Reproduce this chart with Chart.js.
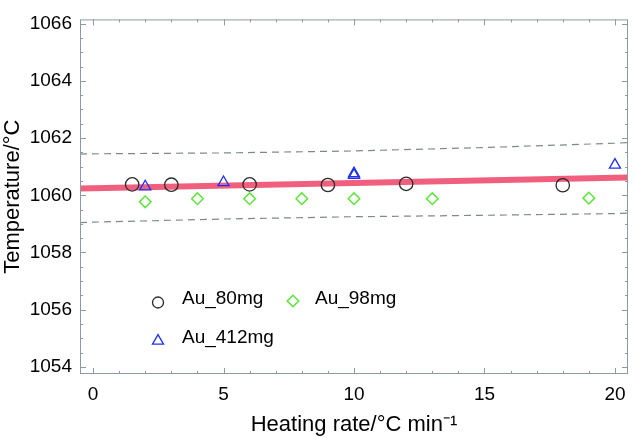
<!DOCTYPE html>
<html>
<head>
<meta charset="utf-8">
<script src="https://cdn.jsdelivr.net/npm/chart.js@4.4.1/dist/chart.umd.min.js"></script>
<style>
  html, body { margin: 0; padding: 0; background: #fff; }
</style>
</head>
<body>
<canvas id="chart" width="636" height="438"></canvas>
<script>
// values
const au80X = [1.5, 3, 6, 9, 12, 18];
const au80Y = [1060.38, 1060.37, 1060.38, 1060.36, 1060.40, 1060.35];
const au98X = [2, 4, 6, 8, 10, 13, 19];
const au98Y = [1059.77, 1059.88, 1059.88, 1059.88, 1059.88, 1059.88, 1059.90];
const au412X = [2, 5, 10, 10, 20];
const au412Y = [1060.30, 1060.45, 1060.70, 1060.76, 1061.06];
const fitX = [-0.5, 20.5];
const fitY = [1060.24, 1060.62];
const bandX = [-0.5, 0, 5, 10, 15, 20, 20.5];
const bandUpper = [1061.44, 1061.45, 1061.48, 1061.55, 1061.67, 1061.82, 1061.84];
const bandLower = [1059.04, 1059.06, 1059.17, 1059.25, 1059.30, 1059.36, 1059.38];
const xTicks = [0, 5, 10, 15, 20];
const yTicks = [1054, 1056, 1058, 1060, 1062, 1064, 1066];

const pts = (xs, ys) => xs.map((x, i) => ({ x, y: ys[i] }));

Chart.defaults.font.family = '"Liberation Sans", Arial, Helvetica, sans-serif';
Chart.defaults.color = '#000';

const axisColor = '#8c9c9c';

// frame plus inward tick marks on all four sides
const frameTicks = {
  id: 'frameTicks',
  afterDatasetsDraw(chart) {
    const { ctx, chartArea: a, scales: { x, y } } = chart;
    ctx.save();
    ctx.strokeStyle = axisColor;
    ctx.lineWidth = 1;
    ctx.strokeRect(a.left + 0.5, a.top + 0.5, a.right - a.left - 1, a.bottom - a.top - 1);
    ctx.beginPath();
    for (let v = Math.ceil(x.min); v <= x.max; v += 1) {
      const px = Math.round(x.getPixelForValue(v)) + 0.5;
      const len = v % 5 === 0 ? 6 : 3;
      ctx.moveTo(px, a.bottom); ctx.lineTo(px, a.bottom - len);
      ctx.moveTo(px, a.top); ctx.lineTo(px, a.top + len);
    }
    for (let v = Math.ceil(y.min * 2) / 2; v <= y.max; v += 0.5) {
      const py = Math.round(y.getPixelForValue(v)) + 0.5;
      const len = v % 2 === 0 ? 6 : 3;
      ctx.moveTo(a.left, py); ctx.lineTo(a.left + len, py);
      ctx.moveTo(a.right, py); ctx.lineTo(a.right - len, py);
    }
    ctx.stroke();
    ctx.restore();
  }
};

function marker(ctx, style, cx, cy, r) {
  ctx.beginPath();
  if (style === 'circle') {
    ctx.arc(cx, cy, r, 0, Math.PI * 2);
  } else if (style === 'rectRot') {
    ctx.moveTo(cx, cy - r); ctx.lineTo(cx + r, cy);
    ctx.lineTo(cx, cy + r); ctx.lineTo(cx - r, cy);
    ctx.closePath();
  } else {
    for (let k = 0; k < 3; k++) {
      const ang = -Math.PI / 2 + k * 2 * Math.PI / 3;
      const px = cx + Math.cos(ang) * r, py = cy + Math.sin(ang) * r;
      k ? ctx.lineTo(px, py) : ctx.moveTo(px, py);
    }
    ctx.closePath();
  }
  ctx.stroke();
}

// legend sitting inside the plot, lower left
const innerLegend = {
  id: 'innerLegend',
  afterDraw(chart) {
    const { ctx } = chart;
    const ds = chart.data.datasets;
    const items = [
      { d: ds[0], mx: 158, my: 302.5, tx: 182, ty: 304, r: 5.5 },
      { d: ds[1], mx: 293, my: 301, tx: 315, ty: 304, r: 5.8 },
      { d: ds[2], mx: 158, my: 341, tx: 182, ty: 343, r: 6.4 }
    ];
    ctx.save();
    items.forEach(it => {
      ctx.strokeStyle = it.d.borderColor;
      ctx.lineWidth = it.d.borderWidth;
      marker(ctx, it.d.pointStyle, it.mx, it.my, it.r);
      ctx.fillStyle = '#000';
      ctx.font = '19px "Liberation Sans", Arial, sans-serif';
      ctx.textBaseline = 'alphabetic';
      ctx.fillText(it.d.label, it.tx, it.ty);
    });
    ctx.restore();
  }
};

new Chart(document.getElementById('chart'), {
  type: 'scatter',
  data: {
    datasets: [
      { label: 'Au_80mg', data: pts(au80X, au80Y), pointStyle: 'circle', pointRadius: 6.7,
        borderColor: '#2a2a2a', backgroundColor: 'rgba(0,0,0,0)', borderWidth: 1.3, order: 1 },
      { label: 'Au_98mg', data: pts(au98X, au98Y), pointStyle: 'rectRot', pointRadius: 5.8,
        borderColor: '#5ee43c', backgroundColor: 'rgba(0,0,0,0)', borderWidth: 1.5, order: 2 },
      { label: 'Au_412mg', data: pts(au412X, au412Y), pointStyle: 'triangle', pointRadius: 6.4,
        borderColor: '#1f2ff0', backgroundColor: 'rgba(0,0,0,0)', borderWidth: 1.3, order: 0 },
      { label: 'fit', data: pts(fitX, fitY), showLine: true, pointRadius: 0,
        borderColor: '#f0607e', borderWidth: 6, order: 10 },
      { label: 'upper', data: pts(bandX, bandUpper), showLine: true, pointRadius: 0,
        borderColor: '#7e8a8a', borderWidth: 1.2, borderDash: [7, 5], order: 11 },
      { label: 'lower', data: pts(bandX, bandLower), showLine: true, pointRadius: 0,
        borderColor: '#7e8a8a', borderWidth: 1.2, borderDash: [7, 5], order: 12 }
    ]
  },
  options: {
    responsive: false,
    animation: false,
    layout: { padding: { top: 4, right: 1, left: 0, bottom: 0 } },
    plugins: { legend: { display: false }, tooltip: { enabled: false } },
    scales: {
      x: {
        type: 'linear', min: -0.5, max: 20.5,
        afterBuildTicks: s => { s.ticks = xTicks.map(v => ({ value: v })); },
        afterFit: s => { s.height = 64; },
        grid: { display: false, drawTicks: false },
        border: { display: false },
        ticks: { padding: 9, font: { size: 19 }, maxRotation: 0, autoSkip: false,
          callback: v => String(v) },
        title: { display: true, text: 'Heating rate/°C min⁻¹', font: { size: 22 }, padding: { top: 0, bottom: 0 } }
      },
      y: {
        type: 'linear', min: 1053.75, max: 1066.15,
        afterBuildTicks: s => { s.ticks = yTicks.map(v => ({ value: v })); },
        afterFit: s => { s.width = 80; },
        grid: { display: false, drawTicks: false },
        border: { display: false },
        ticks: { padding: 8, font: { size: 19 }, autoSkip: false,
          callback: v => String(v) },
        title: { display: true, text: 'Temperature/°C', font: { size: 22 }, padding: { top: 0, bottom: 0 } }
      }
    }
  },
  plugins: [frameTicks, innerLegend]
});
</script>
</body>
</html>
